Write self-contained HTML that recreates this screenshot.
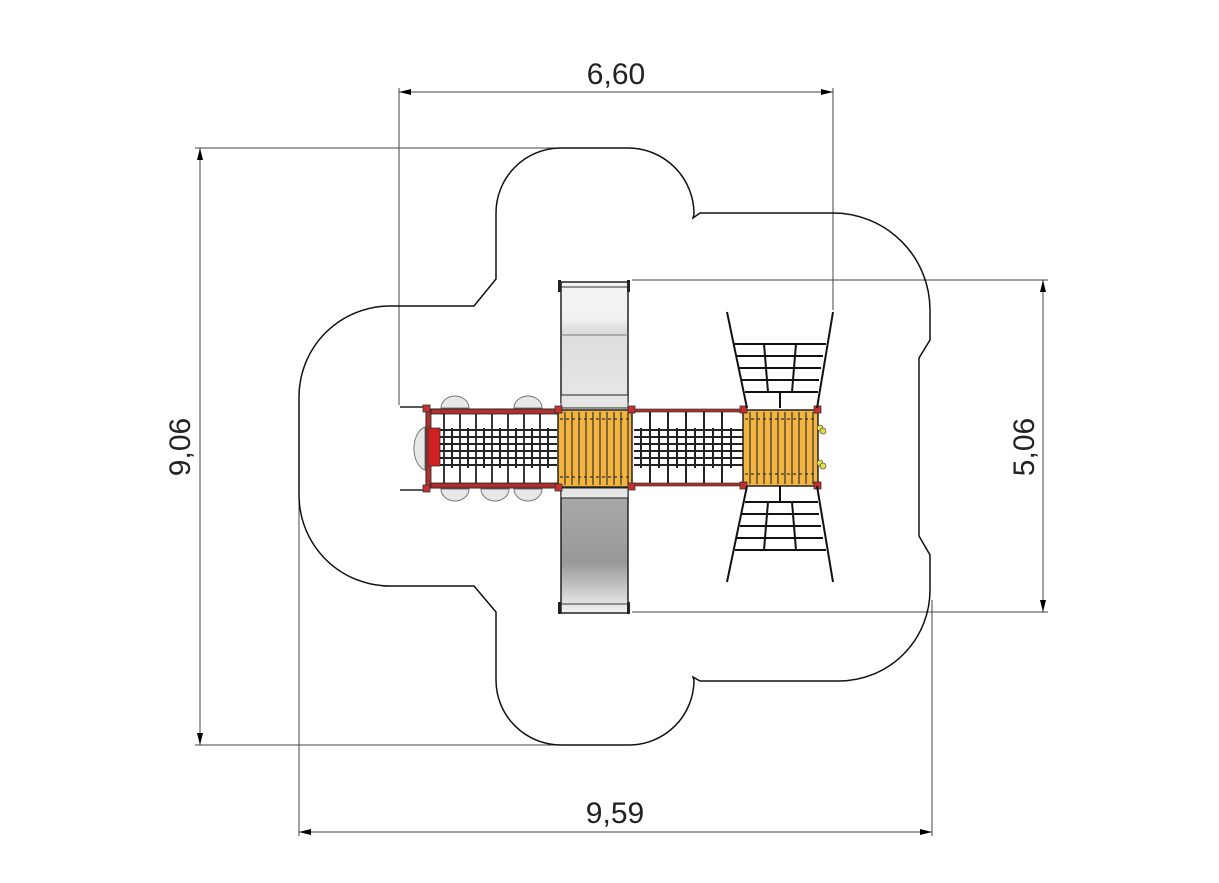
<!DOCTYPE html>
<html><head><meta charset="utf-8"><style>
html,body{margin:0;padding:0;background:#fff;}
svg{display:block;}
text{font-family:"Liberation Sans",sans-serif;font-size:30px;fill:#222;}
</style></head><body>
<svg width="1219" height="883" viewBox="0 0 1219 883" xmlns="http://www.w3.org/2000/svg">
<defs>
<marker id="a" markerWidth="12" markerHeight="6" refX="12" refY="3" orient="auto-start-reverse" markerUnits="userSpaceOnUse"><path d="M12,3 L0,0 L0,6 Z" fill="#000"/></marker>
<linearGradient id="gs" x1="0" y1="0" x2="0" y2="1"><stop offset="0" stop-color="#aaa"/><stop offset="0.6" stop-color="#999"/><stop offset="1" stop-color="#f4f4f4"/></linearGradient>
<linearGradient id="gt" x1="0" y1="0" x2="0" y2="1"><stop offset="0" stop-color="#f2f2f2"/><stop offset="0.3" stop-color="#f2f2f2"/><stop offset="0.4" stop-color="#ddd"/><stop offset="1" stop-color="#e6e6e6"/></linearGradient>
</defs>
<g stroke="#444" stroke-width="1" fill="none">
<line x1="399" y1="88" x2="399" y2="405"/>
<line x1="833" y1="88" x2="833" y2="310"/>
<line x1="399" y1="92" x2="833" y2="92" marker-start="url(#a)" marker-end="url(#a)"/>
<line x1="195" y1="148" x2="560" y2="148"/>
<line x1="195" y1="745" x2="560" y2="745"/>
<line x1="200" y1="148" x2="200" y2="745" marker-start="url(#a)" marker-end="url(#a)"/>
<line x1="299" y1="495" x2="299" y2="836"/>
<line x1="932" y1="600" x2="932" y2="836"/>
<line x1="299" y1="832" x2="932" y2="832" marker-start="url(#a)" marker-end="url(#a)"/>
<line x1="632" y1="280" x2="1048" y2="280"/>
<line x1="632" y1="612" x2="1048" y2="612"/>
<line x1="1043" y1="280" x2="1043" y2="612" marker-start="url(#a)" marker-end="url(#a)"/>
</g>
<text x="616" y="84" text-anchor="middle">6,60</text>
<text x="615" y="823" text-anchor="middle">9,59</text>
<text transform="translate(190,447) rotate(-90)" text-anchor="middle">9,06</text>
<text transform="translate(1034,447) rotate(-90)" text-anchor="middle">5,06</text>
<path fill="none" stroke="#111" stroke-width="1.5" d="M560,148 L628,148 A66,66 0 0 1 694,214 L693,218 L700,213 L833,213 A97,97 0 0 1 930,310 L930,340 L919,358 L919,536 L930,555 L930,590 A91,91 0 0 1 839,681 L700,681 L693,677 L694,680 A65,65 0 0 1 629,745 L561,745 A65,65 0 0 1 496,680 L496,612 L474,586 L390,586 A91,91 0 0 1 299,495 L299,397 A91,91 0 0 1 390,306 L474,306 L496,279 L496,213 A65,65 0 0 1 560,148 Z"/>
<rect x="561" y="282" width="67" height="120" fill="url(#gt)" stroke="#222" stroke-width="1.5"/>
<line x1="561" y1="287" x2="628" y2="287" stroke="#333"/>
<line x1="561" y1="335" x2="628" y2="335" stroke="#777"/>
<rect x="561" y="395" width="67" height="13" fill="#e5e5e5" stroke="#222"/>
<rect x="561" y="488" width="67" height="125" fill="url(#gs)" stroke="#222" stroke-width="1.5"/>
<rect x="561" y="488" width="67" height="10" fill="#e5e5e5" stroke="#222"/>
<line x1="561" y1="604" x2="628" y2="604" stroke="#333"/>
<rect x="558" y="280" width="3" height="12" fill="#222"/><rect x="627" y="280" width="3" height="12" fill="#222"/>
<rect x="558" y="602" width="3" height="12" fill="#222"/><rect x="627" y="602" width="3" height="12" fill="#222"/>
<g fill="#e8e8e8" stroke="#777">
<path d="M441,408 A14,12 0 0 1 469,408 Z"/><path d="M514,408 A14,12 0 0 1 542,408 Z"/>
<path d="M441,489 A14,12 0 0 0 469,489 Z"/><path d="M481,489 A14,12 0 0 0 509,489 Z"/><path d="M514,489 A14,12 0 0 0 542,489 Z"/>
<path d="M425,427 A14,22 0 0 0 425,470 Z"/>
</g>
<g stroke="#222" stroke-width="1.5"><line x1="400" y1="407" x2="425" y2="407"/><line x1="400" y1="490" x2="425" y2="490"/></g>
<rect x="426" y="409" width="132" height="79" fill="#fff" stroke="#222"/>
<rect x="426" y="409" width="132" height="5" fill="#b03030" stroke="#222" stroke-width="0.8"/>
<rect x="426" y="483" width="132" height="5" fill="#b03030" stroke="#222" stroke-width="0.8"/>
<rect x="426" y="409" width="5" height="79" fill="#b03030" stroke="#222" stroke-width="0.8"/>
<g stroke="#222" stroke-width="1.8">
<path d="M444,414V483M460,414V483M476,414V483M492,414V483M508,414V483M524,414V483M540,414V483"/>
</g>
<g stroke="#222" stroke-width="2">
<path d="M436,430H557M436,437H557M436,444H557M436,451H557M436,458H557M436,465H557"/>
<path d="M452,428V468M468,428V468M484,428V468M500,428V468M516,428V468M532,428V468M548,428V468"/>
</g>
<rect x="428" y="428" width="12" height="38" fill="#d02020" stroke="#333" stroke-width="0.8"/>
<rect x="558" y="410" width="74" height="77" fill="#f3b440" stroke="#222" stroke-width="1.5"/>
<rect x="743" y="410" width="75" height="76" fill="#f3b440" stroke="#222" stroke-width="1.5"/>
<g stroke="#333" stroke-width="1.2">
<path d="M565,412V485M572,412V485M579,412V485M586,412V485M593,412V485M600,412V485M607,412V485M614,412V485M621,412V485M628,412V485"/>
<path d="M750,412V484M757,412V484M764,412V484M771,412V484M778,412V484M785,412V484M792,412V484M799,412V484M806,412V484M813,412V484"/>
<path d="M560,419H630M560,477H630M745,419H816M745,474H816" stroke-dasharray="3 3"/>
</g>
<rect x="632" y="409" width="111" height="3" fill="#b03030" stroke="#222" stroke-width="0.6"/>
<rect x="632" y="483" width="111" height="3" fill="#b03030" stroke="#222" stroke-width="0.6"/>
<g stroke="#222" stroke-width="2">
<path d="M650,412V483M668,412V483M686,412V483M704,412V483M722,412V483"/>
<path d="M634,430H743M634,437H743M634,444H743M634,451H743M634,458H743M634,465H743"/>
<path d="M641,428V468M659,428V468M677,428V468M695,428V468M713,428V468M731,428V468"/>
</g>
<g fill="#c83030" stroke="#333" stroke-width="0.8">
<rect x="423" y="405" width="7" height="7"/><rect x="423" y="485" width="7" height="7"/>
<rect x="555" y="406" width="7" height="7"/><rect x="555" y="484" width="7" height="7"/>
<rect x="628" y="406" width="7" height="7"/><rect x="628" y="483" width="7" height="7"/>
<rect x="740" y="406" width="7" height="7"/><rect x="740" y="482" width="7" height="7"/>
<rect x="814" y="406" width="7" height="7"/><rect x="814" y="482" width="7" height="7"/>
</g>
<g fill="#e8e050" stroke="#333" stroke-width="0.6"><circle cx="820" cy="428" r="3"/><circle cx="823" cy="431" r="3"/><circle cx="820" cy="463" r="3"/><circle cx="823" cy="466" r="3"/></g>
<g stroke="#111" stroke-width="2" fill="none">
<path d="M727,312 L747,408 M833,312 L817,408"/>
<path d="M734,344H826M737,356H823M739,368H821M742,380H819M745,392H818"/>
<path d="M764,344L768,392M796,344L792,392M780,392V408"/>
<path d="M727,582 L747,486 M833,582 L817,486"/>
<path d="M745,502H818M742,514H819M740,526H821M737,538H823M735,550H826"/>
<path d="M768,502L764,550M792,502L796,550M780,486V502"/>
</g>
</svg>
</body></html>
